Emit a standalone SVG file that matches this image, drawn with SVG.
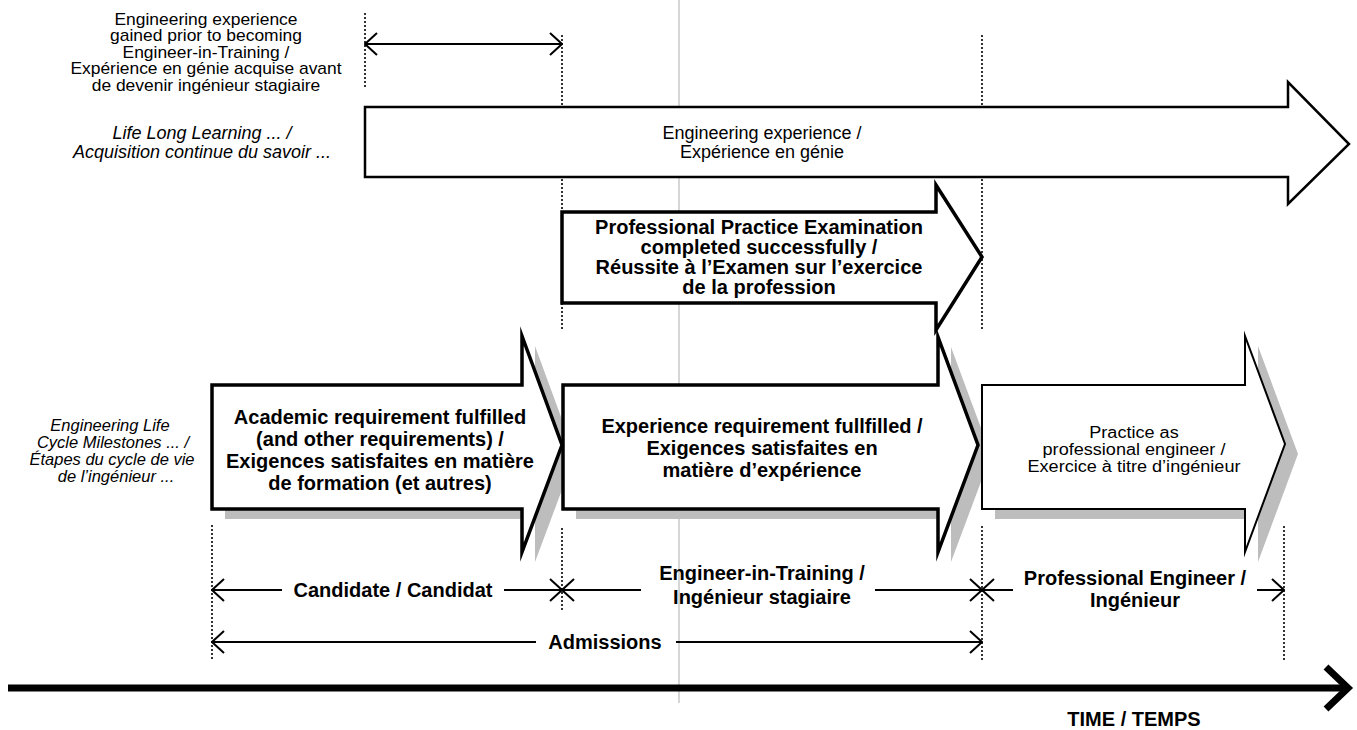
<svg xmlns="http://www.w3.org/2000/svg" width="1357" height="730" viewBox="0 0 1357 730">
<style>
.t{font-family:"Liberation Sans",Arial,sans-serif;fill:#000;text-anchor:middle}
.r{font-size:18px}
.tl{font-size:16px}
.i{font-size:18px;font-style:italic}
.im{font-size:16.5px;font-style:italic}
.b{font-size:20px;font-weight:bold}
.dot{stroke:#000;stroke-width:1.6;stroke-dasharray:2 2;fill:none}
.dim{stroke:#000;stroke-width:2;fill:none}
.arr{fill:#fff;stroke:#000;stroke-linejoin:miter;stroke-miterlimit:10}
.sh{fill:#bdbdbd;stroke:none}
</style>
<defs>
<marker id="ah" viewBox="0 0 14 24" refX="13" refY="12" markerWidth="14" markerHeight="24" markerUnits="userSpaceOnUse" orient="auto-start-reverse">
<path d="M1,1 L13,12 L1,23" fill="none" stroke="#000" stroke-width="2"/>
</marker>
</defs>

<line x1="679" y1="0" x2="679" y2="703" stroke="#c8c8c8" stroke-width="1.5"/>

<g id="guides">
<line class="dot" x1="365" y1="13" x2="365" y2="88"/>
<line class="dot" x1="562" y1="35" x2="562" y2="330"/>
<line class="dot" x1="982" y1="35" x2="982" y2="330"/>
<line class="dot" x1="212" y1="525" x2="212" y2="660"/>
<line class="dot" x1="562" y1="528" x2="562" y2="612"/>
<line class="dot" x1="982" y1="526" x2="982" y2="660"/>
<line class="dot" x1="1284" y1="526" x2="1284" y2="660"/>
</g>

<g id="labels-left">
<g transform="translate(206,0) scale(1.09,1) translate(-206,0)">
<text class="t tl" x="206" y="25">Engineering experience</text>
<text class="t tl" x="206" y="41">gained prior to becoming</text>
<text class="t tl" x="206" y="58">Engineer-in-Training /</text>
<text class="t tl" x="206" y="74">Expérience en génie acquise avant</text>
<text class="t tl" x="206" y="91">de devenir ingénieur stagiaire</text>
</g>
<text class="t i" x="202" y="139">Life Long Learning ... /</text>
<text class="t i" x="202" y="158">Acquisition continue du savoir ...</text>
<text class="t im" x="110" y="431">Engineering Life</text>
<text class="t im" x="113" y="448">Cycle Milestones ... /</text>
<text class="t im" x="112" y="465">Étapes du cycle de vie</text>
<text class="t im" x="116" y="482">de l’ingénieur ...</text>
</g>

<g id="node-experience">
<polygon class="arr" stroke-width="2.5" points="365,107 1288,107 1288,82 1349,144 1288,204 1288,177 365,177"/>
<text class="t r" x="762" y="139">Engineering experience /</text>
<text class="t r" x="762" y="158">Expérience en génie</text>
</g>

<g id="node-ppe">
<polygon class="arr" stroke-width="3.5" points="562,212 936,212 936,185 982,257 936,330 936,303 562,303"/>
<text class="t b" x="759" y="234">Professional Practice Examination</text>
<text class="t b" x="759" y="254">completed successfully /</text>
<text class="t b" x="759" y="274">Réussite à l’Examen sur l’exercice</text>
<text class="t b" x="759" y="294">de la profession</text>
</g>

<g id="node-academic">
<polygon class="sh" points="225,395 535,395 535,346 575,455 535,562 535,519 225,519"/>
<polygon class="arr" stroke-width="3.5" points="212,385 522,385 522,336 562,445 522,552 522,509 212,509"/>
<text class="t b" x="380" y="424">Academic requirement fulfilled</text>
<text class="t b" x="380" y="446">(and other requirements) /</text>
<text class="t b" x="380" y="468">Exigences satisfaites en matière</text>
<text class="t b" x="380" y="490">de formation (et autres)</text>
</g>

<g id="node-eit">
<polygon class="sh" points="576,395 951,395 951,347 991,455 951,562 951,519 576,519"/>
<polygon class="arr" stroke-width="3.5" points="563,385 938,385 938,337 978,445 938,552 938,509 563,509"/>
<text class="t b" x="762" y="433">Experience requirement fullfilled /</text>
<text class="t b" x="762" y="455">Exigences satisfaites en</text>
<text class="t b" x="762" y="477">matière d’expérience</text>
</g>

<g id="node-practice">
<polygon class="sh" points="995,395 1258,395 1258,346 1298,454 1258,562 1258,519 995,519"/>
<polygon class="arr" stroke-width="2" points="982,385 1245,385 1245,336 1285,444 1245,552 1245,509 982,509"/>
<g transform="translate(1134,0) scale(1.13,1) translate(-1134,0)">
<text class="t tl" x="1134" y="438">Practice as</text>
<text class="t tl" x="1134" y="455">professional engineer /</text>
<text class="t tl" x="1134" y="472">Exercice à titre d’ingénieur</text>
</g>
</g>

<g id="connectors">
<line class="dim" x1="365" y1="44" x2="562" y2="44" marker-start="url(#ah)" marker-end="url(#ah)"/>
<line class="dim" x1="212" y1="590" x2="282" y2="590" marker-start="url(#ah)"/>
<line class="dim" x1="504" y1="590" x2="562" y2="590" marker-end="url(#ah)"/>
<line class="dim" x1="562" y1="590" x2="641" y2="590" marker-start="url(#ah)"/>
<line class="dim" x1="875" y1="590" x2="982" y2="590" marker-end="url(#ah)"/>
<line class="dim" x1="982" y1="590" x2="1013" y2="590" marker-start="url(#ah)"/>
<line class="dim" x1="1257" y1="590" x2="1284" y2="590" marker-end="url(#ah)"/>
<line class="dim" x1="212" y1="642" x2="536" y2="642" marker-start="url(#ah)"/>
<line class="dim" x1="676" y1="642" x2="982" y2="642" marker-end="url(#ah)"/>
<line x1="8" y1="688" x2="1346" y2="688" stroke="#000" stroke-width="7"/>
<polyline points="1326,667 1348,688 1326,709" fill="none" stroke="#000" stroke-width="7" stroke-linecap="butt"/>
</g>

<g id="labels-bottom">
<text class="t b" x="393" y="597">Candidate / Candidat</text>
<text class="t b" x="762" y="580">Engineer-in-Training /</text>
<text class="t b" x="762" y="604">Ingénieur stagiaire</text>
<text class="t b" x="1135" y="585">Professional Engineer /</text>
<text class="t b" x="1135" y="607">Ingénieur</text>
<text class="t b" x="605" y="649">Admissions</text>
<text class="t b" x="1134" y="726">TIME / TEMPS</text>
</g>
</svg>
